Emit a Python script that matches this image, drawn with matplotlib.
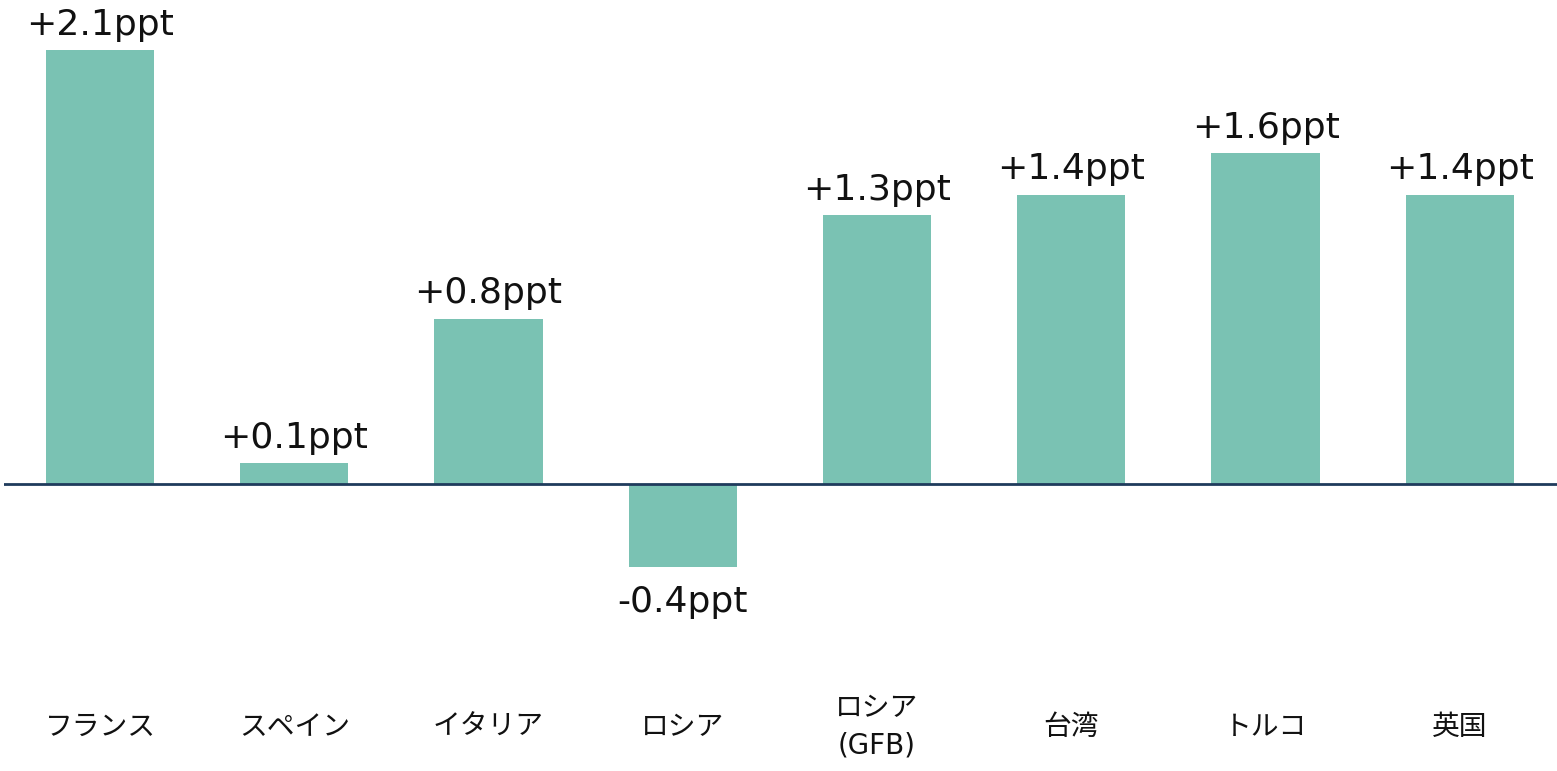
import matplotlib
matplotlib.use("Agg")
import matplotlib.pyplot as plt
import numpy as np

# データ
categories = ["フランス", "スペイン", "イタリア", "ロシア", "ロシア\n(GFB)", "台湾", "トルコ", "英国"]
values = [2.1, 0.1, 0.8, -0.4, 1.3, 1.4, 1.6, 1.4]
value_labels = ["+2.1ppt", "+0.1ppt", "+0.8ppt", "-0.4ppt", "+1.3ppt", "+1.4ppt", "+1.6ppt", "+1.4ppt"]

bar_color = "#7AC2B3"
line_color = "#1F3B5C"

fig = plt.figure(figsize=(15.57, 7.71), dpi=100)
ax = fig.add_axes([4 / 1557, 0, 1 - 4 / 1557, 1])

x = np.arange(len(categories))
ax.bar(x, values, width=0.557, color=bar_color, zorder=2)
ax.axhline(0, color=line_color, linewidth=2.0, zorder=3)

ax.set_xlim(-0.494, 7.5)
ax.set_ylim(-1.389, 2.342)
ax.axis("off")

# 値ラベル
for xi, v, lab in zip(x, values, value_labels):
    if v >= 0:
        ax.annotate(lab, (xi, v), xytext=(0, 11), textcoords="offset points",
                    ha="center", va="baseline", fontsize=26,
                    family="DejaVu Sans", color="#111111")
    else:
        ax.annotate(lab, (xi, v), xytext=(0, -13), textcoords="offset points",
                    ha="center", va="top", fontsize=26,
                    family="DejaVu Sans", color="#111111")

# カテゴリラベル
for xi, cat in zip(x, categories):
    ax.text(xi, -1.175, cat, ha="center", va="center", fontsize=20,
            family=["DejaVu Sans", "Noto Sans CJK JP"], color="#111111",
            linespacing=1.45)

fig.savefig("out.png", dpi=100)
